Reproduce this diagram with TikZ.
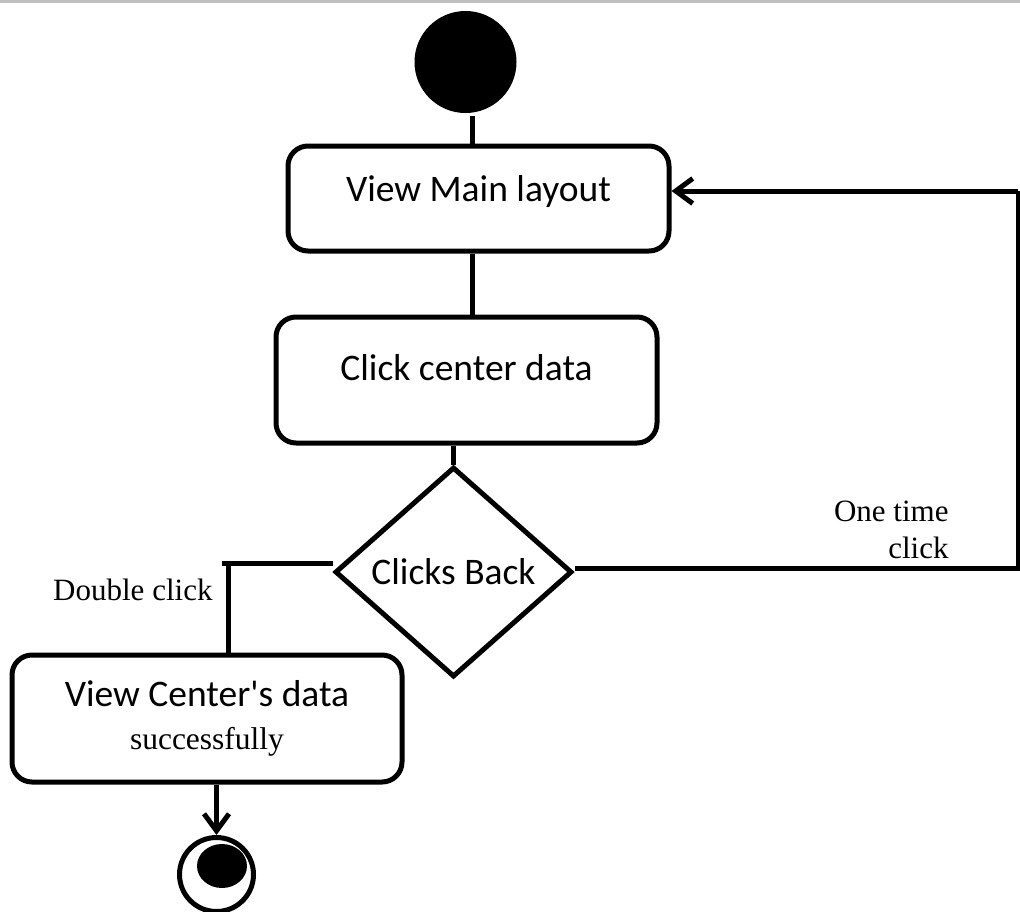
\documentclass[tikz,border=0pt]{standalone}
\usepackage{fontspec}
\setmainfont{Liberation Serif}
\newfontfamily\carlito[Ligatures=TeXOff]{Carlito}
\usetikzlibrary{shapes.geometric,arrows.meta}

\begin{document}
\begin{tikzpicture}[x=1pt,y=-1pt,line width=5pt,
  act/.style={draw,rounded corners=20pt,inner sep=0pt,minimum width=381pt,
    font=\carlito\fontsize{37.5}{43}\selectfont},
  dec/.style={draw,diamond,inner sep=0pt,minimum width=237pt,minimum height=210pt,
    font=\carlito\fontsize{37.5}{43}\selectfont},
  lbl/.style={inner sep=0pt,font=\fontsize{31}{37}\selectfont},
  arr/.style={-{Straight Barb[length=17pt,width=25pt]}}]
  \useasboundingbox (0,0) rectangle (1020,911);
  \fill[black!25] (0,0) rectangle (1020,3);

  \node at (465.5,62) [circle,fill,inner sep=0pt,minimum size=102pt] (start) {};
  \node at (478.5,198.5) [act,minimum height=105pt,text height=26pt,text depth=20pt] (main) {View Main layout};
  \node at (466.5,380) [act,minimum height=126pt,text height=26pt,text depth=26pt] (click) {Click center data};
  \node at (453.5,572) [dec] (back) {Clicks Back};
  \node at (207,718.5) [act,minimum width=390pt,minimum height=127pt,align=center] (done)
    {View Center's data\\{\rmfamily\fontsize{31.5}{43}\selectfont successfully}};
  \node at (216.5,874.5) [circle,draw,inner sep=0pt,minimum size=74pt] (fin) {};
  \fill (222,866) ellipse [x radius=25,y radius=22];

  \node at (951,498) [lbl,anchor=north east,align=right] (once) {One time\\click};
  \node at (215,600) [lbl,anchor=base east] (twice) {Double click};

  \coordinate (loop) at (1018,191);
  \coordinate (dbl) at (222,563);

  \draw ([xshift=-6pt]main.north) -- ([xshift=-6pt]main.north |- start.south);
  \draw ([xshift=-6pt]main.south) -- ([xshift=-6pt]main.south |- click.north);
  \draw (back.north) -- (back.north |- click.south);
  \draw ([yshift=4pt]back.east) -| (loop);
  \draw[arr] (loop) -- (loop -| main.east);
  \draw ([yshift=9pt]back.west) -- (dbl);
  \draw ([xshift=6pt]dbl) -- ([xshift=6pt]dbl |- done.north);
  \draw[arr] (done.south -| fin) -- (fin.north);
\end{tikzpicture}
\end{document}
